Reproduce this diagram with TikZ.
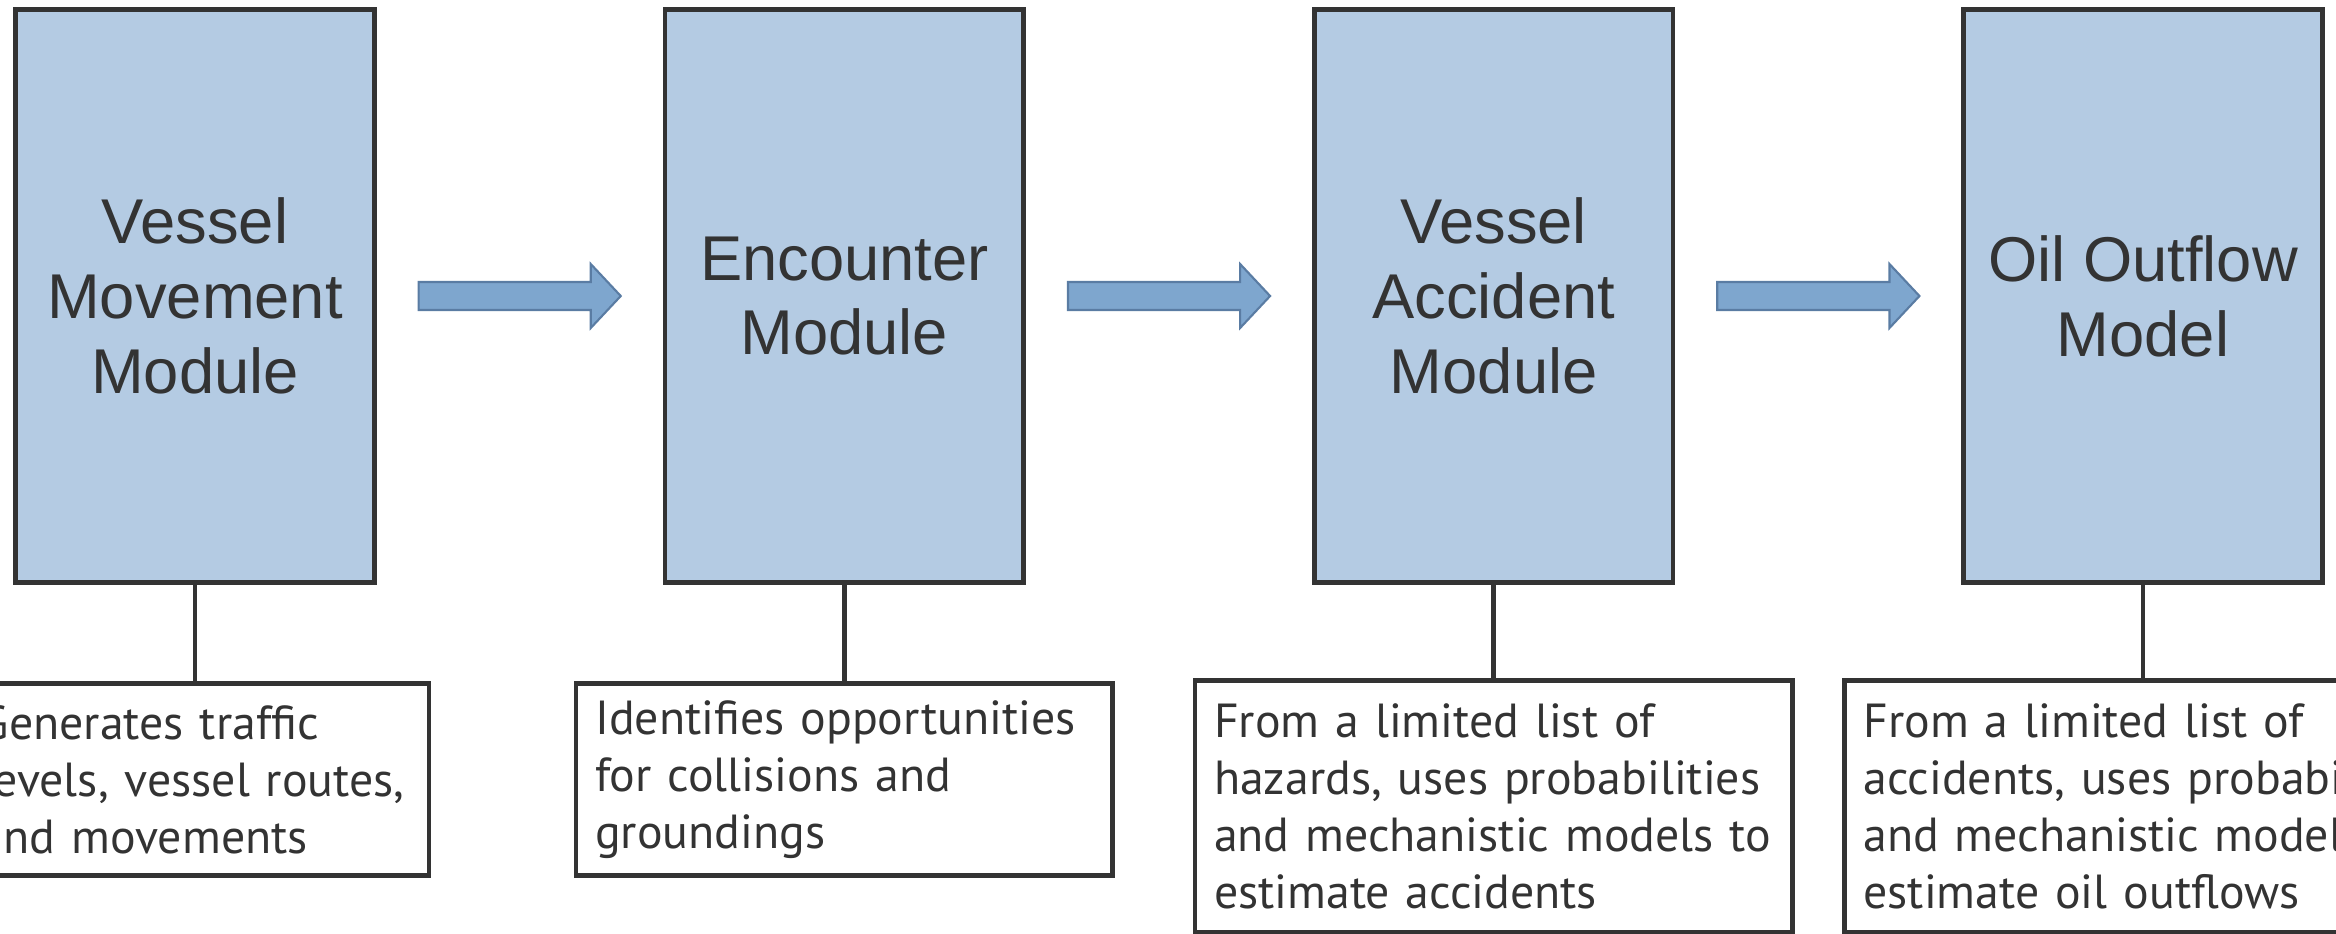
\documentclass[tikz,border=0pt]{standalone}
\usepackage{fontspec}
\setmainfont{Liberation Sans}
\newfontfamily\descfont{PT Sans}
\usepackage{tikz}
\usetikzlibrary{positioning,calc}
\definecolor{boxblue}{HTML}{B4CBE3}
\definecolor{arrowblue}{HTML}{7EA6CE}
\definecolor{arrowedge}{HTML}{5A7CA3}
\definecolor{darkline}{HTML}{333333}
\hyphenpenalty=10000
\exhyphenpenalty=10000
\newcommand{\flowarrow}[2] % {from}{to}
{
	\draw [flowarrow] ($(#1.east)+(42,-14)$) -- ($(#2.west)+(-72,-14)$) -- ($(#2.west)+(-72,-32)$) -- ($(#2.west)+(-42,0)$) -- ($(#2.west)+(-72,32)$) -- ($(#2.west)+(-72,14)$) -- ($(#1.east)+(42,14)$) -- cycle;
}
\tikzset{
	module/.style={draw=darkline, line width=1.3pt, fill=boxblue, minimum width=3.584cm, minimum height=5.73cm, inner sep=0pt, align=center, text=darkline, font=\fontsize{18}{21.3}\selectfont},
	desc/.style={draw=darkline, line width=1.3pt, fill=white, inner xsep=0.19cm, inner ysep=0pt, align=left, text=darkline, font=\descfont\fontsize{13.6}{16.2}\selectfont},
	flowarrow/.style={fill=arrowblue, draw=arrowedge, line width=0.6pt},
	link/.style={draw=darkline, line width=1.3pt}
}

\begin{document}
\begin{tikzpicture}[x=0.01cm, y=-0.01cm]

	\useasboundingbox (0,0) rectangle (2336,933);
	\clip (0,0) rectangle (2336,933);

	% les quatre modules
	\node [module] (m1) at (195,296) {Vessel\\Movement\\Module};
	\node [module, right=2.86cm of m1] (m2) {Encounter\\Module};
	\node [module, right=2.86cm of m2] (m3) {Vessel\\Accident\\Module};
	\node [module, right=2.86cm of m3] (m4) {Oil Outflow\\Model};

	\flowarrow{m1}{m2}
	\flowarrow{m2}{m3}
	\flowarrow{m3}{m4}

	% descriptions
	\node [desc, text width=4.30cm, minimum height=1.92cm, below=0.96cm of m1] (d1) {Generates traffic\\levels, vessel routes,\\and movements};
	\node [desc, text width=4.98cm, minimum height=1.92cm, below=0.96cm of m2] (d2) {Identifies opportunities\\for collisions and\\groundings};
	\node [desc, text width=5.59cm, minimum height=2.52cm, below=0.93cm of m3] (d3) {From a limited list of\\hazards, uses probabilities\\and mechanistic models to\\estimate accidents};
	\node [desc, text width=5.59cm, minimum height=2.52cm, below=0.93cm of m4] (d4) {From a limited list of\\\mbox{accidents, uses probabilities}\\\mbox{and mechanistic models to}\\estimate oil outflows};

	\foreach \i in {1,...,4} {
		\draw [link] (m\i) -- (d\i);
	}

\end{tikzpicture}
\end{document}
